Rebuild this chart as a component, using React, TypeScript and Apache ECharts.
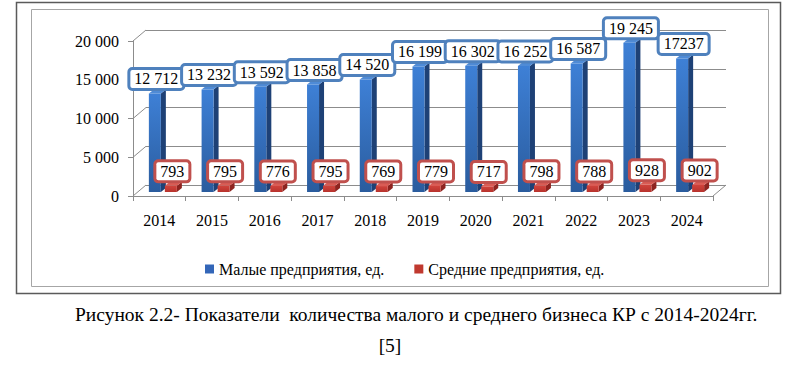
import React, { useEffect, useRef } from "react";
import * as echarts from "echarts";

const years = ["2014", "2015", "2016", "2017", "2018", "2019", "2020", "2021", "2022", "2023", "2024"];
const smallValues = [12712, 13232, 13592, 13858, 14520, 16199, 16302, 16252, 16587, 19245, 17237];
const mediumValues = [793, 795, 776, 795, 769, 779, 717, 798, 788, 928, 902];
const smallLabels = ["12 712", "13 232", "13 592", "13 858", "14 520", "16 199", "16 302", "16 252", "16 587", "19 245", "17237"];
const mediumLabels = ["793", "795", "776", "795", "769", "779", "717", "798", "788", "928", "902"];
const yTicks = [0, 5000, 10000, 15000, 20000];
const seriesNames = ["Малые предприятия, ед.", "Средние предприятия, ед."];
const caption = "Рисунок 2.2- Показатели  количества малого и среднего бизнеса КР с 2014-2024гг.";
const source = "[5]";

const FONT = "Liberation Serif";
const Y_MAX = 20000;

// layout
const FL = 133, FR = 713, FT = 41, FB = 196; // front plane
const DX = 13, DY = 11; // depth offset of back wall
const MX = 3.5, MY = 4; // bars plane offset

const fmt = (v: number) => String(v).replace(/\B(?=(\d{3})+(?!\d))/g, " ");

function makeRender(labels: string[], offset: number, colors: { front: [string, string]; side: string; top: string; border: string }) {
  return (params: any, api: any) => {
    const idx = api.value(0);
    const v = api.value(1);
    const base = api.coord([idx, 0]);
    const top = api.coord([idx, v]);
    const w = 12, d = 5, dv = 4;
    const cx = base[0] + offset;
    const xl = cx - w / 2, xr = cx + w / 2;
    return {
      type: "group",
      children: [
        {
          type: "polygon",
          shape: { points: [[xr, top[1]], [xr + d, top[1] - dv], [xr + d, base[1] - dv], [xr, base[1]]] },
          style: { fill: colors.side },
        },
        {
          type: "polygon",
          shape: { points: [[xl, top[1]], [xr, top[1]], [xr + d, top[1] - dv], [xl + d, top[1] - dv]] },
          style: { fill: colors.top },
        },
        {
          type: "rect",
          shape: { x: xl, y: top[1], width: w, height: base[1] - top[1] },
          style: {
            fill: new echarts.graphic.LinearGradient(0, 0, 0, 1, [
              { offset: 0, color: colors.front[0] },
              { offset: 1, color: colors.front[1] },
            ]),
          },
        },
        {
          type: "text",
          z2: 10,
          style: {
            text: labels[idx],
            x: cx + 1.5,
            y: top[1] - dv - 1.5,
            align: "center",
            textAlign: "center",
            verticalAlign: "bottom",
            textVerticalAlign: "bottom",
            fontSize: 16,
            fontFamily: FONT,
            lineHeight: 16,
            fill: "#000",
            backgroundColor: "#fff",
            borderColor: colors.border,
            borderWidth: 3,
            borderRadius: 2,
            padding: [1, 4],
          },
        },
      ],
    };
  };
}

export default function App() {
  const ref = useRef<HTMLDivElement>(null);
  useEffect(() => {
    document.body.style.margin = "0";
    const chart = echarts.init(ref.current!, null, { renderer: "svg" });

    const fy = (v: number) => FB - (v / Y_MAX) * (FB - FT);
    const wallLines = yTicks.map((v) => ({
      type: "line",
      shape: { x1: FL, y1: fy(v), x2: FL + DX, y2: fy(v) - DY },
      style: { stroke: "#8c8c8c", lineWidth: 1 },
      silent: true,
    }));

    const option: any = {
      animation: false,
      backgroundColor: "#fff",
      textStyle: { fontFamily: FONT },
      grid: [
        { left: FL, width: FR - FL, top: FT, height: FB - FT },
        { left: FL + DX, width: FR - FL, top: FT - DY, height: FB - FT },
        { left: FL + MX, width: FR - FL, top: FT - MY, height: FB - FT },
      ],
      xAxis: [
        {
          type: "category",
          gridIndex: 0,
          data: years,
          axisLine: { lineStyle: { color: "#8c8c8c" } },
          axisTick: { show: true, length: 5, lineStyle: { color: "#8c8c8c" } },
          axisLabel: { color: "#000", fontSize: 16, fontFamily: FONT, margin: 16 },
        },
        { type: "category", gridIndex: 1, data: years, show: false },
        { type: "category", gridIndex: 2, data: years, show: false },
      ],
      yAxis: [
        {
          type: "value",
          gridIndex: 0,
          min: 0,
          max: Y_MAX,
          interval: 5000,
          axisLine: { show: true, lineStyle: { color: "#8c8c8c" } },
          axisTick: { show: true, length: 5, lineStyle: { color: "#8c8c8c" } },
          splitLine: { show: false },
          axisLabel: { color: "#000", fontSize: 16, fontFamily: FONT, margin: 14, formatter: (v: number) => fmt(v) },
        },
        {
          type: "value",
          gridIndex: 1,
          min: 0,
          max: Y_MAX,
          interval: 5000,
          axisLine: { show: false },
          axisTick: { show: false },
          axisLabel: { show: false },
          splitLine: { show: true, lineStyle: { color: "#8c8c8c", width: 1 } },
        },
        { type: "value", gridIndex: 2, min: 0, max: Y_MAX, interval: 5000, show: false, splitLine: { show: false } },
      ],
      legend: {
        left: 200,
        top: 256,
        icon: "rect",
        itemWidth: 9,
        itemHeight: 9,
        itemGap: 30,
        textStyle: { color: "#000", fontSize: 16, fontFamily: FONT },
        data: seriesNames,
      },
      series: [
        {
          name: seriesNames[0],
          type: "custom",
          xAxisIndex: 2,
          yAxisIndex: 2,
          itemStyle: { color: "#3366B8" },
          encode: { x: 0, y: 1 },
          data: smallValues.map((v, i) => [i, v]),
          renderItem: makeRender(smallLabels, -8, {
            front: ["#3E80D6", "#2A5C9E"],
            side: "#1E4176",
            top: "#4F8BD6",
            border: "#4F81BD",
          }),
        },
        {
          name: seriesNames[1],
          type: "custom",
          xAxisIndex: 2,
          yAxisIndex: 2,
          itemStyle: { color: "#C0392F" },
          encode: { x: 0, y: 1 },
          data: mediumValues.map((v, i) => [i, v]),
          renderItem: makeRender(mediumLabels, 8, {
            front: ["#D0433C", "#B8332D"],
            side: "#8E2420",
            top: "#DA5C55",
            border: "#C0504D",
          }),
        },
      ],
      graphic: [
        {
          type: "rect",
          shape: { x: 16.5, y: 2.5, width: 764, height: 291 },
          style: { fill: "none", stroke: "#5a5a5a", lineWidth: 1.5 },
          silent: true,
        },
        {
          type: "rect",
          shape: { x: 31.5, y: 9.5, width: 737, height: 277 },
          style: { fill: "none", stroke: "#a6a6a6", lineWidth: 1 },
          silent: true,
        },
        ...wallLines,
        {
          type: "line",
          shape: { x1: FR, y1: FB, x2: FR + DX, y2: FB - DY },
          style: { stroke: "#8c8c8c", lineWidth: 1 },
          silent: true,
        },
        {
          type: "text",
          style: {
            text: caption,
            x: 75,
            y: 314,
            align: "left",
            textAlign: "left",
            verticalAlign: "middle",
            textVerticalAlign: "middle",
            fontSize: 19.5,
            fontFamily: FONT,
            fill: "#000",
          },
        },
        {
          type: "text",
          style: {
            text: source,
            x: 390,
            y: 345,
            align: "center",
            textAlign: "center",
            verticalAlign: "middle",
            textVerticalAlign: "middle",
            fontSize: 19.5,
            fontFamily: FONT,
            fill: "#000",
          },
        },
      ],
    };
    chart.setOption(option);
    return () => chart.dispose();
  }, []);
  return <div ref={ref} style={{ width: 800, height: 373 }} />;
}
